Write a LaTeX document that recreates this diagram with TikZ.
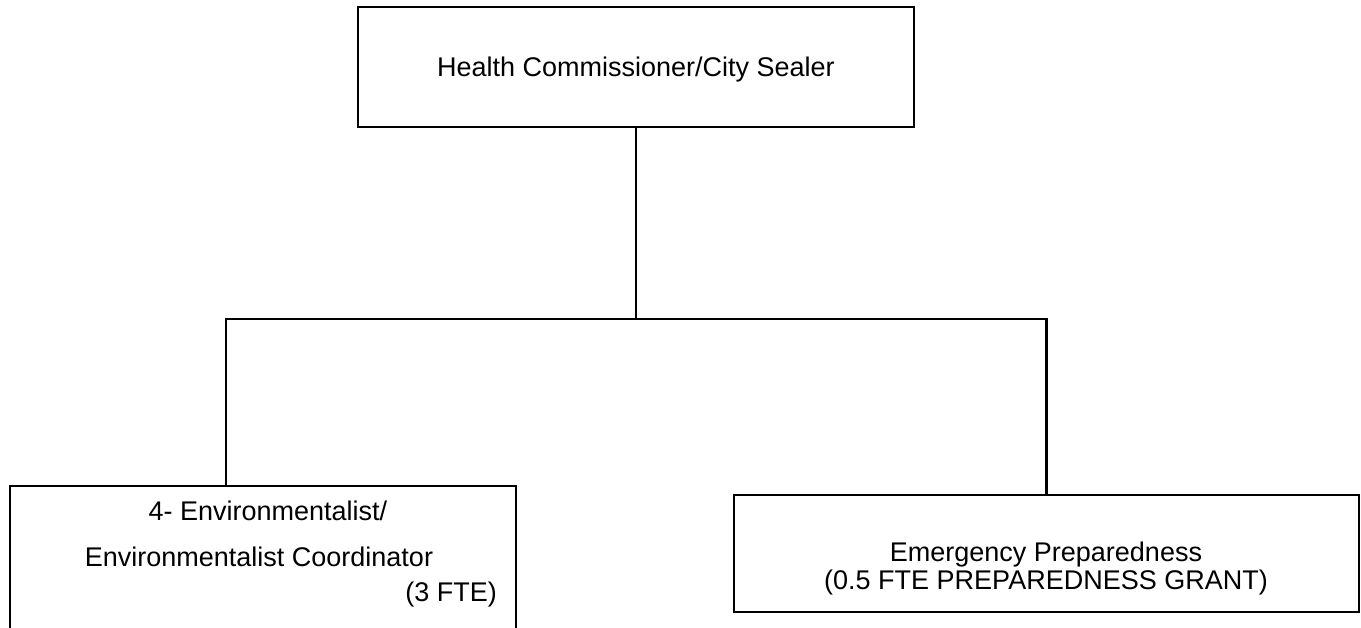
\documentclass[tikz,border=0pt]{standalone}
\usepackage{fontspec}
\setmainfont{Liberation Sans}
\begin{document}
\begin{tikzpicture}[x=1pt,y=-1pt,
  box/.style={draw=black,line width=2.8pt,rectangle,inner sep=0pt},
  wire/.style={draw=black,line width=2.8pt},
  lbl/.style={font=\fontsize{27}{32}\selectfont,inner sep=0pt,anchor=base}]
\useasboundingbox[fill=white] (0,0) rectangle (1361,627);

% boxes
\node[box,minimum width=556pt,minimum height=120pt] (head) at (636,67) {};
\node[box,minimum width=506pt,minimum height=180pt] (env) at (263,576) {};
\node[box,minimum width=625pt,minimum height=117pt] (emer) at (1046.5,553.5) {};

% labels
\node[lbl] (headtxt) at (636,76) {Health Commissioner/City Sealer};
\node[lbl] (envtxt1) at (268,520) {4- Environmentalist/};
\node[lbl] (envtxt2) at (259,566) {Environmentalist Coordinator};
\node[lbl,anchor=base east] (envfte) at (497,601) {(3 FTE)};
\node[lbl] (emertxt1) at (1046,561) {Emergency Preparedness};
\node[lbl] (emertxt2) at (1046,589) {(0.5 FTE PREPAREDNESS GRANT)};

% connectors
\coordinate (bus) at (636,319);
\coordinate (envtop) at (226,486);
\draw[wire] (head.south) -- (bus);
\draw[wire] (envtop) |- (bus) -| (emer.north);
\end{tikzpicture}
\end{document}
